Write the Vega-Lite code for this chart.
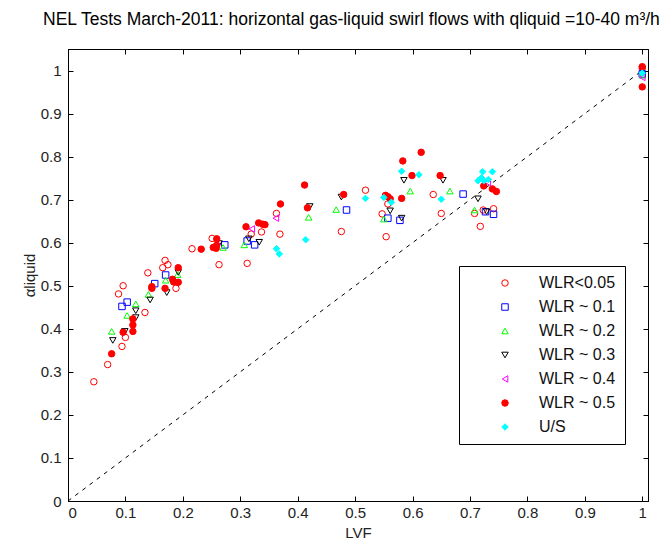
{
  "$schema": "https://vega.github.io/schema/vega-lite/v6.json",
  "width": 580,
  "height": 452,
  "autosize": {"type": "none"},
  "padding": {"left": 68, "top": 49, "right": 13, "bottom": 45},
  "background": "white",
  "title": {
    "text": "NEL Tests March-2011: horizontal gas-liquid swirl flows with qliquid =10-40 m³/h",
    "anchor": "start", "frame": "group", "dx": -25, "offset": 20,
    "fontSize": 17.5, "fontWeight": "normal", "font": "Liberation Sans", "color": "#000"
  },
  "config": {
    "view": {"stroke": "#000", "strokeWidth": 1},
    "axis": {
      "grid": false, "domainColor": "#000", "tickColor": "#000", "tickSize": -5,
      "labelColor": "#222", "labelFont": "Liberation Sans", "labelFontSize": 15,
      "titleFont": "Liberation Sans", "titleFontSize": 15, "titleFontWeight": "normal", "titleColor": "#222"
    },
    "axisBottom": {"labelPadding": 9, "titlePadding": 5},
    "axisLeft": {"labelPadding": 12, "titlePadding": 3},
    "legend": {
      "orient": "none", "legendX": 391, "legendY": 217,
      "strokeColor": "#000", "fillColor": "#fff", "padding": 9, "cornerRadius": 0,
      "symbolOffset": 29, "labelOffset": 26, "labelFontSize": 16, "labelFont": "Liberation Sans",
      "labelColor": "#111", "rowPadding": 8, "symbolSize": 42, "symbolStrokeWidth": 1
    }
  },
  "datasets": {
    "pts": [
      {"s": "WLR<0.05", "LVF": 0.045, "alpha": 0.277},
      {"s": "WLR<0.05", "LVF": 0.069, "alpha": 0.317},
      {"s": "WLR<0.05", "LVF": 0.094, "alpha": 0.359},
      {"s": "WLR<0.05", "LVF": 0.100, "alpha": 0.380},
      {"s": "WLR<0.05", "LVF": 0.088, "alpha": 0.481},
      {"s": "WLR<0.05", "LVF": 0.096, "alpha": 0.500},
      {"s": "WLR<0.05", "LVF": 0.134, "alpha": 0.438},
      {"s": "WLR<0.05", "LVF": 0.139, "alpha": 0.530},
      {"s": "WLR<0.05", "LVF": 0.169, "alpha": 0.559},
      {"s": "WLR<0.05", "LVF": 0.165, "alpha": 0.542},
      {"s": "WLR<0.05", "LVF": 0.174, "alpha": 0.549},
      {"s": "WLR<0.05", "LVF": 0.188, "alpha": 0.494},
      {"s": "WLR<0.05", "LVF": 0.216, "alpha": 0.586},
      {"s": "WLR<0.05", "LVF": 0.251, "alpha": 0.610},
      {"s": "WLR<0.05", "LVF": 0.263, "alpha": 0.549},
      {"s": "WLR<0.05", "LVF": 0.319, "alpha": 0.620},
      {"s": "WLR<0.05", "LVF": 0.312, "alpha": 0.552},
      {"s": "WLR<0.05", "LVF": 0.337, "alpha": 0.625},
      {"s": "WLR<0.05", "LVF": 0.363, "alpha": 0.668},
      {"s": "WLR<0.05", "LVF": 0.369, "alpha": 0.620},
      {"s": "WLR<0.05", "LVF": 0.476, "alpha": 0.626},
      {"s": "WLR<0.05", "LVF": 0.518, "alpha": 0.722},
      {"s": "WLR<0.05", "LVF": 0.557, "alpha": 0.690},
      {"s": "WLR<0.05", "LVF": 0.547, "alpha": 0.667},
      {"s": "WLR<0.05", "LVF": 0.554, "alpha": 0.614},
      {"s": "WLR<0.05", "LVF": 0.636, "alpha": 0.712},
      {"s": "WLR<0.05", "LVF": 0.650, "alpha": 0.668},
      {"s": "WLR<0.05", "LVF": 0.708, "alpha": 0.668},
      {"s": "WLR<0.05", "LVF": 0.723, "alpha": 0.676},
      {"s": "WLR<0.05", "LVF": 0.741, "alpha": 0.679},
      {"s": "WLR<0.05", "LVF": 0.718, "alpha": 0.638},
      {"s": "WLR<0.05", "LVF": 1.0, "alpha": 1.005},

      {"s": "WLR ~ 0.1", "LVF": 0.094, "alpha": 0.452},
      {"s": "WLR ~ 0.1", "LVF": 0.103, "alpha": 0.462},
      {"s": "WLR ~ 0.1", "LVF": 0.151, "alpha": 0.505},
      {"s": "WLR ~ 0.1", "LVF": 0.170, "alpha": 0.525},
      {"s": "WLR ~ 0.1", "LVF": 0.273, "alpha": 0.595},
      {"s": "WLR ~ 0.1", "LVF": 0.312, "alpha": 0.604},
      {"s": "WLR ~ 0.1", "LVF": 0.325, "alpha": 0.595},
      {"s": "WLR ~ 0.1", "LVF": 0.485, "alpha": 0.676},
      {"s": "WLR ~ 0.1", "LVF": 0.557, "alpha": 0.657},
      {"s": "WLR ~ 0.1", "LVF": 0.578, "alpha": 0.652},
      {"s": "WLR ~ 0.1", "LVF": 0.688, "alpha": 0.713},
      {"s": "WLR ~ 0.1", "LVF": 0.727, "alpha": 0.672},
      {"s": "WLR ~ 0.1", "LVF": 0.741, "alpha": 0.666},
      {"s": "WLR ~ 0.1", "LVF": 1.0, "alpha": 0.992},

      {"s": "WLR ~ 0.2", "LVF": 0.076, "alpha": 0.394},
      {"s": "WLR ~ 0.2", "LVF": 0.103, "alpha": 0.431},
      {"s": "WLR ~ 0.2", "LVF": 0.118, "alpha": 0.458},
      {"s": "WLR ~ 0.2", "LVF": 0.140, "alpha": 0.480},
      {"s": "WLR ~ 0.2", "LVF": 0.170, "alpha": 0.513},
      {"s": "WLR ~ 0.2", "LVF": 0.191, "alpha": 0.526},
      {"s": "WLR ~ 0.2", "LVF": 0.270, "alpha": 0.589},
      {"s": "WLR ~ 0.2", "LVF": 0.307, "alpha": 0.595},
      {"s": "WLR ~ 0.2", "LVF": 0.419, "alpha": 0.659},
      {"s": "WLR ~ 0.2", "LVF": 0.467, "alpha": 0.677},
      {"s": "WLR ~ 0.2", "LVF": 0.550, "alpha": 0.655},
      {"s": "WLR ~ 0.2", "LVF": 0.596, "alpha": 0.720},
      {"s": "WLR ~ 0.2", "LVF": 0.665, "alpha": 0.720},
      {"s": "WLR ~ 0.2", "LVF": 0.708, "alpha": 0.676},
      {"s": "WLR ~ 0.2", "LVF": 1.0, "alpha": 0.989},

      {"s": "WLR ~ 0.3", "LVF": 0.078, "alpha": 0.373},
      {"s": "WLR ~ 0.3", "LVF": 0.099, "alpha": 0.394},
      {"s": "WLR ~ 0.3", "LVF": 0.118, "alpha": 0.442},
      {"s": "WLR ~ 0.3", "LVF": 0.118, "alpha": 0.426},
      {"s": "WLR ~ 0.3", "LVF": 0.143, "alpha": 0.467},
      {"s": "WLR ~ 0.3", "LVF": 0.172, "alpha": 0.484},
      {"s": "WLR ~ 0.3", "LVF": 0.192, "alpha": 0.531},
      {"s": "WLR ~ 0.3", "LVF": 0.263, "alpha": 0.598},
      {"s": "WLR ~ 0.3", "LVF": 0.315, "alpha": 0.609},
      {"s": "WLR ~ 0.3", "LVF": 0.333, "alpha": 0.601},
      {"s": "WLR ~ 0.3", "LVF": 0.421, "alpha": 0.684},
      {"s": "WLR ~ 0.3", "LVF": 0.476, "alpha": 0.706},
      {"s": "WLR ~ 0.3", "LVF": 0.561, "alpha": 0.674},
      {"s": "WLR ~ 0.3", "LVF": 0.581, "alpha": 0.657},
      {"s": "WLR ~ 0.3", "LVF": 0.585, "alpha": 0.745},
      {"s": "WLR ~ 0.3", "LVF": 0.653, "alpha": 0.745},
      {"s": "WLR ~ 0.3", "LVF": 0.714, "alpha": 0.702},
      {"s": "WLR ~ 0.3", "LVF": 0.729, "alpha": 0.672},
      {"s": "WLR ~ 0.3", "LVF": 1.0, "alpha": 1.003},

      {"s": "WLR ~ 0.4", "LVF": 0.320, "alpha": 0.632},
      {"s": "WLR ~ 0.4", "LVF": 0.362, "alpha": 0.657},
      {"s": "WLR ~ 0.4", "LVF": 0.731, "alpha": 0.740},
      {"s": "WLR ~ 0.4", "LVF": 1.0, "alpha": 0.984},

      {"s": "WLR ~ 0.5", "LVF": 0.076, "alpha": 0.342},
      {"s": "WLR ~ 0.5", "LVF": 0.096, "alpha": 0.392},
      {"s": "WLR ~ 0.5", "LVF": 0.113, "alpha": 0.394},
      {"s": "WLR ~ 0.5", "LVF": 0.113, "alpha": 0.409},
      {"s": "WLR ~ 0.5", "LVF": 0.113, "alpha": 0.423},
      {"s": "WLR ~ 0.5", "LVF": 0.146, "alpha": 0.498},
      {"s": "WLR ~ 0.5", "LVF": 0.146, "alpha": 0.494},
      {"s": "WLR ~ 0.5", "LVF": 0.169, "alpha": 0.494},
      {"s": "WLR ~ 0.5", "LVF": 0.182, "alpha": 0.515},
      {"s": "WLR ~ 0.5", "LVF": 0.184, "alpha": 0.509},
      {"s": "WLR ~ 0.5", "LVF": 0.192, "alpha": 0.508},
      {"s": "WLR ~ 0.5", "LVF": 0.192, "alpha": 0.542},
      {"s": "WLR ~ 0.5", "LVF": 0.232, "alpha": 0.585},
      {"s": "WLR ~ 0.5", "LVF": 0.259, "alpha": 0.609},
      {"s": "WLR ~ 0.5", "LVF": 0.259, "alpha": 0.594},
      {"s": "WLR ~ 0.5", "LVF": 0.253, "alpha": 0.589},
      {"s": "WLR ~ 0.5", "LVF": 0.258, "alpha": 0.587},
      {"s": "WLR ~ 0.5", "LVF": 0.310, "alpha": 0.637},
      {"s": "WLR ~ 0.5", "LVF": 0.332, "alpha": 0.646},
      {"s": "WLR ~ 0.5", "LVF": 0.339, "alpha": 0.643},
      {"s": "WLR ~ 0.5", "LVF": 0.343, "alpha": 0.642},
      {"s": "WLR ~ 0.5", "LVF": 0.370, "alpha": 0.690},
      {"s": "WLR ~ 0.5", "LVF": 0.412, "alpha": 0.734},
      {"s": "WLR ~ 0.5", "LVF": 0.417, "alpha": 0.681},
      {"s": "WLR ~ 0.5", "LVF": 0.480, "alpha": 0.712},
      {"s": "WLR ~ 0.5", "LVF": 0.553, "alpha": 0.710},
      {"s": "WLR ~ 0.5", "LVF": 0.557, "alpha": 0.707},
      {"s": "WLR ~ 0.5", "LVF": 0.561, "alpha": 0.702},
      {"s": "WLR ~ 0.5", "LVF": 0.615, "alpha": 0.810},
      {"s": "WLR ~ 0.5", "LVF": 0.583, "alpha": 0.790},
      {"s": "WLR ~ 0.5", "LVF": 0.599, "alpha": 0.756},
      {"s": "WLR ~ 0.5", "LVF": 0.581, "alpha": 0.703},
      {"s": "WLR ~ 0.5", "LVF": 0.648, "alpha": 0.756},
      {"s": "WLR ~ 0.5", "LVF": 0.724, "alpha": 0.732},
      {"s": "WLR ~ 0.5", "LVF": 0.739, "alpha": 0.725},
      {"s": "WLR ~ 0.5", "LVF": 0.746, "alpha": 0.719},
      {"s": "WLR ~ 0.5", "LVF": 1.0, "alpha": 1.009},
      {"s": "WLR ~ 0.5", "LVF": 1.0, "alpha": 0.962},

      {"s": "U/S", "LVF": 0.363, "alpha": 0.586},
      {"s": "U/S", "LVF": 0.368, "alpha": 0.574},
      {"s": "U/S", "LVF": 0.414, "alpha": 0.607},
      {"s": "U/S", "LVF": 0.518, "alpha": 0.703},
      {"s": "U/S", "LVF": 0.550, "alpha": 0.705},
      {"s": "U/S", "LVF": 0.563, "alpha": 0.694},
      {"s": "U/S", "LVF": 0.581, "alpha": 0.766},
      {"s": "U/S", "LVF": 0.611, "alpha": 0.758},
      {"s": "U/S", "LVF": 0.650, "alpha": 0.701},
      {"s": "U/S", "LVF": 0.722, "alpha": 0.765},
      {"s": "U/S", "LVF": 0.739, "alpha": 0.765},
      {"s": "U/S", "LVF": 0.714, "alpha": 0.744},
      {"s": "U/S", "LVF": 0.724, "alpha": 0.744},
      {"s": "U/S", "LVF": 0.732, "alpha": 0.747},
      {"s": "U/S", "LVF": 0.720, "alpha": 0.751},
      {"s": "U/S", "LVF": 1.0, "alpha": 0.994}
    ],
    "diag": [
      {"LVF": 0, "alpha": 0},
      {"LVF": 1, "alpha": 1}
    ]
  },
  "layer": [
    {
      "data": {"name": "diag"},
      "mark": {"type": "line", "color": "#000", "strokeDash": [4, 5], "strokeWidth": 1},
      "encoding": {
        "x": {
          "field": "LVF", "type": "quantitative",
          "scale": {"domain": [0, 1.01], "nice": false, "zero": false},
          "axis": {"orient": "bottom", "values": [0, 0.1, 0.2, 0.3, 0.4, 0.5, 0.6, 0.7, 0.8, 0.9, 1], "format": ".1~f", "title": "LVF"}
        },
        "y": {
          "field": "alpha", "type": "quantitative",
          "scale": {"domain": [0, 1.05], "nice": false, "zero": false},
          "axis": {"orient": "left", "values": [0, 0.1, 0.2, 0.3, 0.4, 0.5, 0.6, 0.7, 0.8, 0.9, 1], "format": ".1~f", "title": "αliquid"}
        }
      }
    },
    {
      "data": {"name": "pts"},
      "mark": {"type": "point", "opacity": 1, "strokeWidth": 1, "size": 42},
      "encoding": {
        "x": {
          "field": "LVF", "type": "quantitative",
          "axis": {"orient": "top", "values": [0, 0.1, 0.2, 0.3, 0.4, 0.5, 0.6, 0.7, 0.8, 0.9, 1], "labels": false, "title": null}
        },
        "y": {
          "field": "alpha", "type": "quantitative",
          "axis": {"orient": "right", "values": [0, 0.1, 0.2, 0.3, 0.4, 0.5, 0.6, 0.7, 0.8, 0.9, 1], "labels": false, "title": null}
        },
        "stroke": {
          "field": "s", "type": "nominal", "legend": {"title": null},
          "scale": {
            "domain": ["WLR<0.05", "WLR ~ 0.1", "WLR ~ 0.2", "WLR ~ 0.3", "WLR ~ 0.4", "WLR ~ 0.5", "U/S"],
            "range": ["#ff0000", "#0000ff", "#00ff00", "#000000", "#ff00ff", "#ff0000", "#00ffff"]
          }
        },
        "fill": {
          "field": "s", "type": "nominal", "legend": {"title": null},
          "scale": {
            "domain": ["WLR<0.05", "WLR ~ 0.1", "WLR ~ 0.2", "WLR ~ 0.3", "WLR ~ 0.4", "WLR ~ 0.5", "U/S"],
            "range": ["transparent", "transparent", "transparent", "transparent", "transparent", "#ff0000", "#00ffff"]
          }
        },
        "shape": {
          "field": "s", "type": "nominal", "legend": {"title": null},
          "scale": {
            "domain": ["WLR<0.05", "WLR ~ 0.1", "WLR ~ 0.2", "WLR ~ 0.3", "WLR ~ 0.4", "WLR ~ 0.5", "U/S"],
            "range": ["circle", "square", "triangle-up", "triangle-down", "triangle-left", "circle", "diamond"]
          }
        }
      }
    }
  ],
  "resolve": {"axis": {"x": "independent", "y": "independent"}}
}
